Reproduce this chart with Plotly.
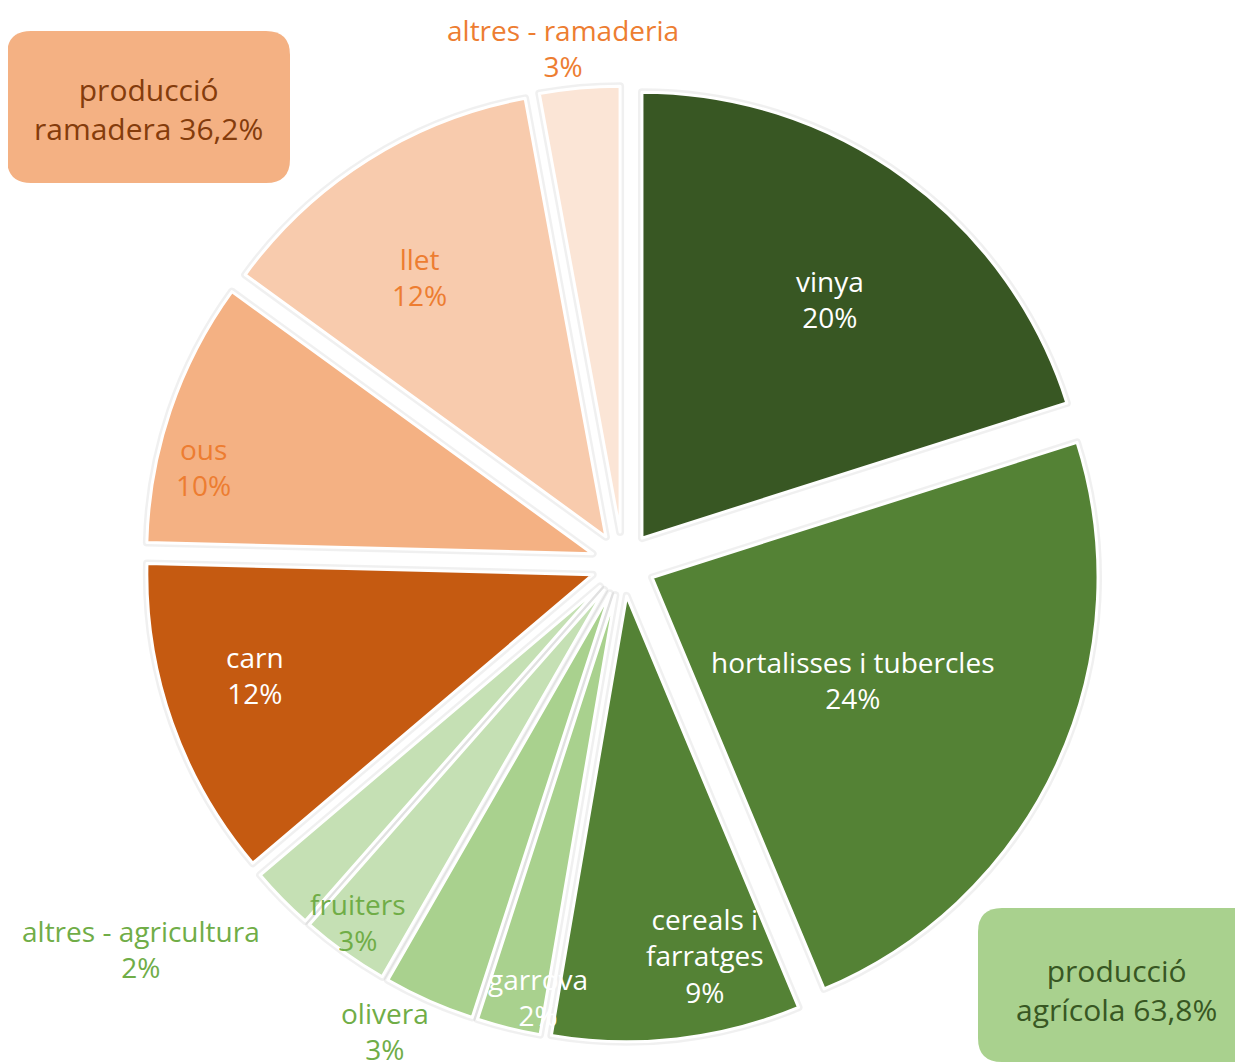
import math
import plotly.graph_objects as go

# ---- data ----
labels = ["vinya", "hortalisses i tubercles", "cereals i<br>farratges", "garrova", "olivera",
          "fruiters", "altres - agricultura", "carn", "ous", "llet", "altres - ramaderia"]
values = [20.1, 23.6, 9.0, 2.3, 3.3, 3.2, 2.3, 11.6, 9.6, 12.1, 2.9]
colors = ["#385723", "#548235", "#548235", "#A9D18E", "#A9D18E", "#C5E0B4", "#C5E0B4",
          "#C55A11", "#F4B183", "#F8CBAD", "#FBE5D6"]
text_colors = ["white", "white", "white", "white", "#70AD47", "#70AD47", "#70AD47",
               "white", "#ED7D31", "#ED7D31", "#ED7D31"]
# label placement: radial factor (of pie radius) and angle nudge (deg) from slice mid-angle
label_radius = [0.754, 0.578, 0.896, 0.99, 1.176, 0.999, 1.383, 0.862, 0.966, 0.788, 1.165]
label_nudge = [1.8, 2.0, -5.3, -2.7, 3.0, 0.9, 5.8, 2.6, -5.7, -3.1, -1.4]
PULL = 0.072
group_labels = ["producció<br>ramadera 36,2%", "producció<br>agrícola 63,8%"]

W, H = 1243, 1063
OFF = 8  # page body margin
ML, MR, MT, MB = 0, 13, 78, 29
PW, PH = W - ML - MR, H - MT - MB
FONT = "Open Sans"

def px2paper(x, y):
    # x, y are screen pixels
    return (x - OFF - ML) / PW, 1 - (y - OFF - MT) / PH

def rounded_rect(x0, y0, x1, y1, r):
    ax0, ay0 = px2paper(x0, y0)
    ax1, ay1 = px2paper(x1, y1)
    rx, ry = r / PW, r / PH
    return (f"M {ax0+rx},{ay0} L {ax1-rx},{ay0} Q {ax1},{ay0} {ax1},{ay0-ry} "
            f"L {ax1},{ay1+ry} Q {ax1},{ay1} {ax1-rx},{ay1} "
            f"L {ax0+rx},{ay1} Q {ax0},{ay1} {ax0},{ay1+ry} "
            f"L {ax0},{ay0-ry} Q {ax0},{ay0} {ax0+rx},{ay0} Z")

total = sum(values)
pct_text = [f"{round(100 * v / total)}%" for v in values]

common = dict(labels=labels, values=values, sort=False, direction="clockwise", rotation=0,
              pull=[PULL] * len(values), textposition="none", showlegend=False)
fig = go.Figure()
# faint shadow halo
fig.add_trace(go.Pie(marker=dict(colors=colors, line=dict(color="rgba(0,0,0,0.06)", width=8)),
                     hoverinfo="skip", **common))
fig.add_trace(go.Pie(marker=dict(colors=colors, line=dict(color="white", width=3)),
                     hoverinfo="label+percent", **common))

# slice labels, placed along each slice's mid-angle (pie geometry from the layout)
cx, cy = OFF + ML + PW / 2, OFF + MT + PH / 2
R = min(PW, PH) / (2 * (1 + PULL))
cum = 0.0
for i, v in enumerate(values):
    mid = (cum + v / 2) / total * 360 + label_nudge[i]
    cum += v
    rr = R * label_radius[i]
    px = cx + rr * math.sin(math.radians(mid))
    py = cy - rr * math.cos(math.radians(mid))
    ax, ay = px2paper(px, py)
    fig.add_annotation(x=ax, y=ay, xref="paper", yref="paper",
                       text=f"{labels[i]}<br>{pct_text[i]}", showarrow=False,
                       font=dict(family=FONT, size=28, color=text_colors[i]),
                       xanchor="center", yanchor="middle")

fig.add_shape(type="path", xref="paper", yref="paper",
              path=rounded_rect(7, 31, 290, 183, 24),
              fillcolor="#F4B183", line=dict(width=0), layer="above")
fig.add_shape(type="path", xref="paper", yref="paper",
              path=rounded_rect(978, 908, 1262, 1062, 24),
              fillcolor="#A9D18E", line=dict(width=0), layer="above")

for (txt, x, y, col) in [(group_labels[0], 148, 109, "#843C0C"),
                         (group_labels[1], 1116, 990, "#385723")]:
    ax, ay = px2paper(x, y)
    fig.add_annotation(x=ax, y=ay, xref="paper", yref="paper", text=txt, showarrow=False,
                       font=dict(family=FONT, size=30, color=col),
                       xanchor="center", yanchor="middle")

fig.update_layout(width=W, height=H,
                  margin=dict(l=ML, r=MR, t=MT, b=MB, autoexpand=False),
                  paper_bgcolor="white", plot_bgcolor="white")
fig.write_html("out.html")
